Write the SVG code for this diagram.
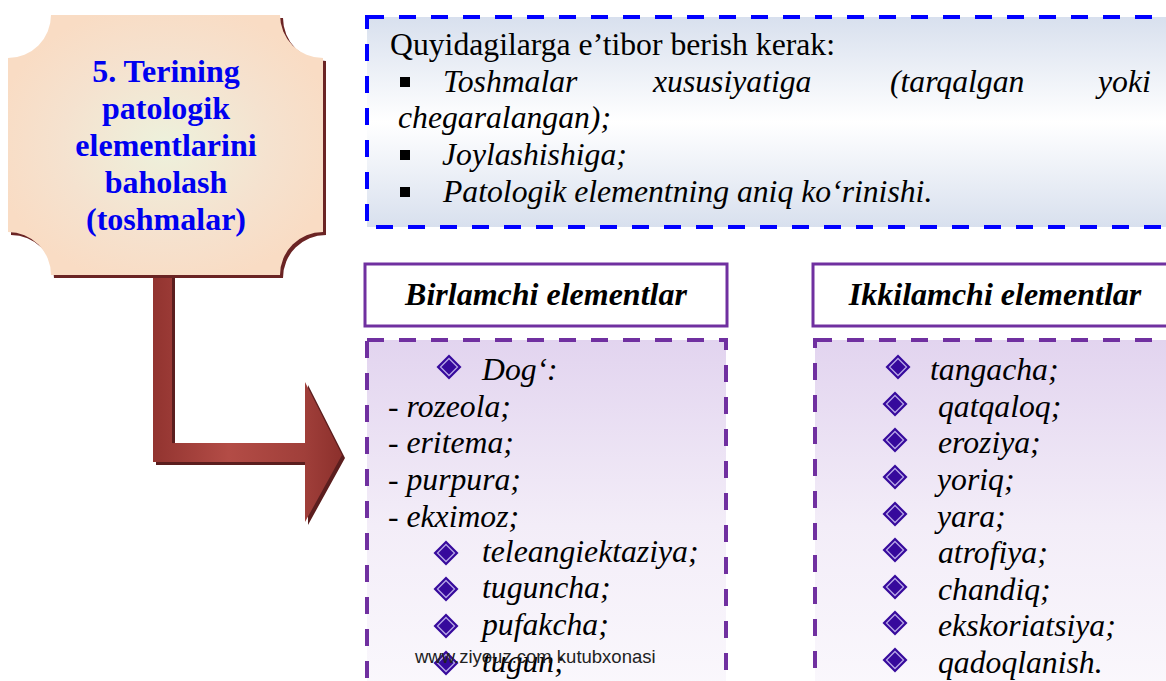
<svg xmlns="http://www.w3.org/2000/svg" width="1166" height="681" viewBox="0 0 1166 681">
<style>
text{font-family:'Liberation Serif',serif}
.serif{font-size:31.7px;fill:#000}
.it{font-style:italic}
.node-title{font-size:32px;font-weight:700;fill:#0000f0;text-anchor:middle}
.hdr{font-size:32px;font-weight:700;font-style:italic;fill:#000;text-anchor:middle}
.hdrbox{fill:#fff;stroke:#7030a0;stroke-width:3}
.listbox{fill:url(#lav);stroke:#7030a0;stroke-width:4;stroke-dasharray:17 15}
text.wm{font-family:'Liberation Sans',sans-serif;font-size:18.5px;fill:#222}
</style>
<defs>
<radialGradient id="peach" cx="0.5" cy="0.5" r="0.55">
<stop offset="0" stop-color="#edf1dc"/>
<stop offset="0.6" stop-color="#f5e2cf"/>
<stop offset="1" stop-color="#f9dcc4"/>
</radialGradient>
<linearGradient id="blu" x1="0" y1="0" x2="0" y2="1">
<stop offset="0" stop-color="#d8e0ee"/>
<stop offset="0.5" stop-color="#ffffff"/>
<stop offset="1" stop-color="#d8e0ee"/>
</linearGradient>
<linearGradient id="lav" x1="0" y1="0" x2="0" y2="1">
<stop offset="0" stop-color="#e2d4ef"/>
<stop offset="0.5" stop-color="#f3edf8"/>
<stop offset="1" stop-color="#fbf9fd"/>
</linearGradient>
<linearGradient id="red" gradientUnits="userSpaceOnUse" x1="153" y1="0" x2="342" y2="0">
<stop offset="0" stop-color="#923430"/>
<stop offset="0.4" stop-color="#b34c46"/>
<stop offset="0.8" stop-color="#a03f3a"/>
<stop offset="1" stop-color="#8c302c"/>
</linearGradient>
<g id="gem">
<path d="M0 -12.5 L12.5 0 L0 12.5 L-12.5 0 Z" fill="#36099c"/>
<path d="M0 -8.5 L8.5 0 L0 8.5 L-8.5 0 Z" fill="#36099c" stroke="#b7a6e6" stroke-width="1.3"/>
</g>
</defs>

<g id="connectors">
<path d="M156 275 L175 275 L175 446 L308 446 L308 385 L345 458 L308 525 L308 465 L156 465 Z" fill="#5b1e1e"/>
<path d="M153 272 L172 272 L172 443 L305 443 L305 382 L342 455 L305 522 L305 462 L153 462 Z" fill="url(#red)"/>
</g>

<g id="node-main">
<path d="M54 18 L283 18 A43 43 0 0 0 326 61 L326 235 A43 43 0 0 0 283 278 L54 278 A43 43 0 0 0 11 235 L11 61 A43 43 0 0 0 54 18 Z" fill="#6b2424"/>
<path d="M51 15 L280 15 A43 43 0 0 0 323 58 L323 232 A43 43 0 0 0 280 275 L51 275 A43 43 0 0 0 8 232 L8 58 A43 43 0 0 0 51 15 Z" fill="url(#peach)"/>
<text class="node-title" x="166" y="82">5. Terining</text>
<text class="node-title" x="166" y="119">patologik</text>
<text class="node-title" x="166" y="156">elementlarini</text>
<text class="node-title" x="166" y="193">baholash</text>
<text class="node-title" x="166" y="230">(toshmalar)</text>
</g>

<g id="node-note">
<rect x="367" y="17" width="820" height="210" fill="url(#blu)" stroke="#0000ff" stroke-width="4" stroke-dasharray="17 15"/>
<text class="serif" x="390" y="55">Quyidagilarga e’tibor berish kerak:</text>
<rect x="400" y="77" width="10" height="10" fill="#000"/>
<text class="serif it" x="443" y="92">Toshmalar</text>
<text class="serif it" x="653" y="92">xususiyatiga</text>
<text class="serif it" x="890" y="92">(tarqalgan</text>
<text class="serif it" x="1098" y="92">yoki</text>
<text class="serif it" x="398" y="128">chegaralangan);</text>
<rect x="400" y="150" width="10" height="10" fill="#000"/>
<text class="serif it" x="442" y="165">Joylashishiga;</text>
<rect x="400" y="187" width="10" height="10" fill="#000"/>
<text class="serif it" x="443" y="202">Patologik elementning aniq ko‘rinishi.</text>
</g>

<g id="node-primary-header">
<rect class="hdrbox" x="365" y="264" width="362" height="62"/>
<text class="hdr" x="546" y="305">Birlamchi elementlar</text>
</g>

<g id="node-secondary-header">
<rect class="hdrbox" x="813" y="264" width="370" height="62"/>
<text class="hdr" x="995" y="305">Ikkilamchi elementlar</text>
</g>

<g id="node-primary-list">
<rect class="listbox" x="367" y="340" width="359" height="370"/>
<use href="#gem" x="449" y="367"/>
<text class="serif it" x="482" y="380">Dog‘:</text>
<text class="serif it" x="388" y="417">- rozeola;</text>
<text class="serif it" x="388" y="453">- eritema;</text>
<text class="serif it" x="388" y="490">- purpura;</text>
<text class="serif it" x="388" y="527">- ekximoz;</text>
<use href="#gem" x="446" y="553"/>
<text class="serif it" x="482" y="562">teleangiektaziya;</text>
<use href="#gem" x="446" y="589"/>
<text class="serif it" x="482" y="598">tuguncha;</text>
<use href="#gem" x="446" y="626"/>
<text class="serif it" x="482" y="635">pufakcha;</text>
<use href="#gem" x="446" y="663"/>
<text class="serif it" x="482" y="672">tugun;</text>
<text class="wm" x="415" y="663">www.ziyouz.com kutubxonasi</text>
</g>

<g id="node-secondary-list">
<rect class="listbox" x="815" y="340" width="370" height="370"/>
<use href="#gem" x="898" y="367"/>
<text class="serif it" x="930" y="380">tangacha;</text>
<use href="#gem" x="895" y="404"/>
<text class="serif it" x="938" y="417">qatqaloq;</text>
<use href="#gem" x="895" y="440"/>
<text class="serif it" x="938" y="453">eroziya;</text>
<use href="#gem" x="895" y="477"/>
<text class="serif it" x="937" y="490">yoriq;</text>
<use href="#gem" x="895" y="514"/>
<text class="serif it" x="937" y="527">yara;</text>
<use href="#gem" x="895" y="550"/>
<text class="serif it" x="938" y="563">atrofiya;</text>
<use href="#gem" x="895" y="587"/>
<text class="serif it" x="938" y="600">chandiq;</text>
<use href="#gem" x="895" y="623"/>
<text class="serif it" x="938" y="636">ekskoriatsiya;</text>
<use href="#gem" x="895" y="660"/>
<text class="serif it" x="938" y="673">qadoqlanish.</text>
</g>
</svg>
